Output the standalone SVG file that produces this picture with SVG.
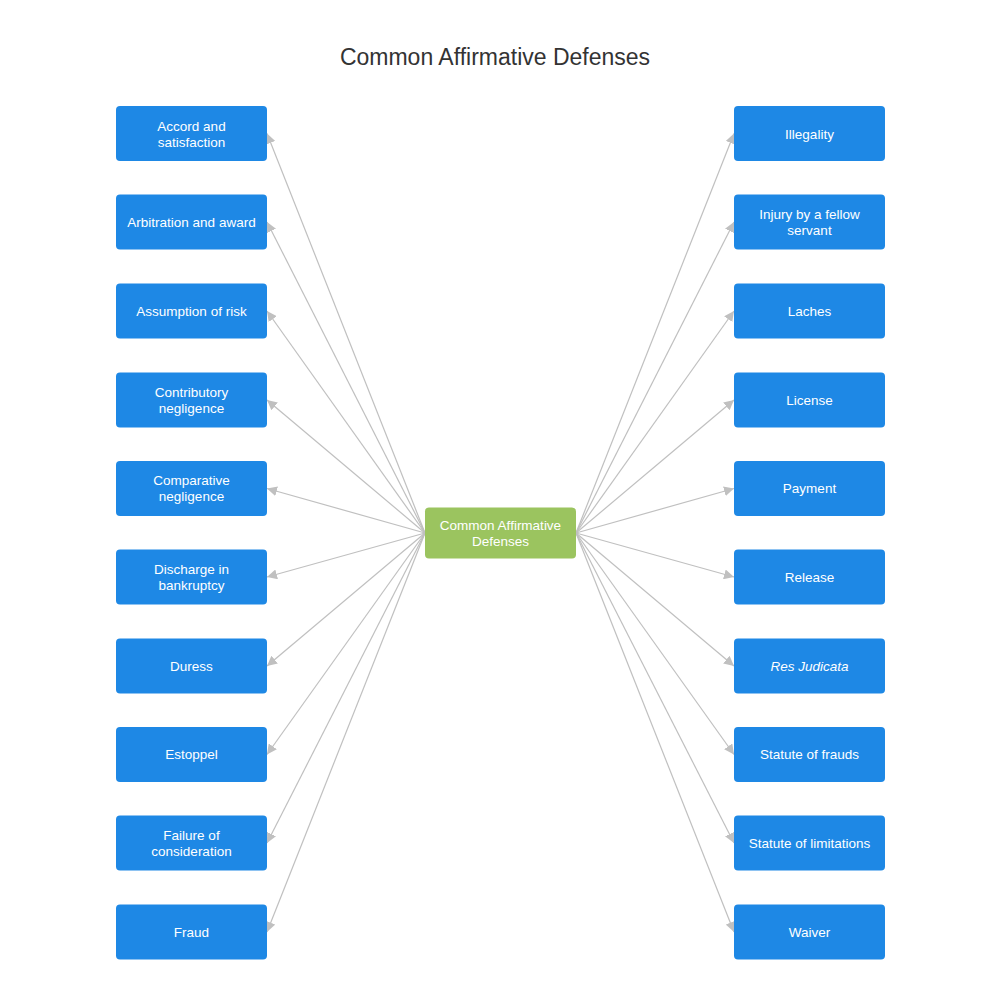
<svg xmlns="http://www.w3.org/2000/svg" width="1000" height="1000" viewBox="0 0 1000 1000">
<style>
.n{fill:#1e88e5}
.t{fill:#fff;font-family:"Liberation Sans",Arial,sans-serif;font-size:13.5px;text-anchor:middle}
.c line{stroke:#c0c0c0;stroke-width:1.2;marker-end:url(#a)}
</style>
<defs><marker id="a" viewBox="0 0 10 10" refX="10" refY="5" markerWidth="10" markerHeight="10" markerUnits="userSpaceOnUse" orient="auto"><path d="M0,0 L10,5 L0,10 z" fill="#c0c0c0"/></marker></defs>
<rect width="1000" height="1000" fill="#fff"/>
<text x="495" y="65" font-family="'Liberation Sans',Arial,sans-serif" font-size="23" fill="#333" text-anchor="middle">Common Affirmative Defenses</text>
<g class="c">
<line x1="425" y1="533" x2="267" y2="133.5"/>
<line x1="425" y1="533" x2="267" y2="222"/>
<line x1="425" y1="533" x2="267" y2="311"/>
<line x1="425" y1="533" x2="267" y2="400"/>
<line x1="425" y1="533" x2="267" y2="488.5"/>
<line x1="425" y1="533" x2="267" y2="577"/>
<line x1="425" y1="533" x2="267" y2="666"/>
<line x1="425" y1="533" x2="267" y2="754.5"/>
<line x1="425" y1="533" x2="267" y2="843"/>
<line x1="425" y1="533" x2="267" y2="932"/>
<line x1="576" y1="533" x2="734" y2="133.5"/>
<line x1="576" y1="533" x2="734" y2="222"/>
<line x1="576" y1="533" x2="734" y2="311"/>
<line x1="576" y1="533" x2="734" y2="400"/>
<line x1="576" y1="533" x2="734" y2="488.5"/>
<line x1="576" y1="533" x2="734" y2="577"/>
<line x1="576" y1="533" x2="734" y2="666"/>
<line x1="576" y1="533" x2="734" y2="754.5"/>
<line x1="576" y1="533" x2="734" y2="843"/>
<line x1="576" y1="533" x2="734" y2="932"/>
</g>
<g id="center"><rect x="425" y="507.5" width="151" height="51" rx="4" fill="#9bc45f"/><text class="t" x="500.5" y="530">Common Affirmative</text><text class="t" x="500.5" y="546">Defenses</text></g>
<g id="l1"><rect class="n" x="116" y="106" width="151" height="55" rx="4"/><text class="t" x="191.5" y="131">Accord and</text><text class="t" x="191.5" y="147">satisfaction</text></g>
<g id="l2"><rect class="n" x="116" y="194.5" width="151" height="55" rx="4"/><text class="t" x="191.5" y="227">Arbitration and award</text></g>
<g id="l3"><rect class="n" x="116" y="283.5" width="151" height="55" rx="4"/><text class="t" x="191.5" y="316">Assumption of risk</text></g>
<g id="l4"><rect class="n" x="116" y="372.5" width="151" height="55" rx="4"/><text class="t" x="191.5" y="397">Contributory</text><text class="t" x="191.5" y="413">negligence</text></g>
<g id="l5"><rect class="n" x="116" y="461" width="151" height="55" rx="4"/><text class="t" x="191.5" y="485">Comparative</text><text class="t" x="191.5" y="501">negligence</text></g>
<g id="l6"><rect class="n" x="116" y="549.5" width="151" height="55" rx="4"/><text class="t" x="191.5" y="574">Discharge in</text><text class="t" x="191.5" y="590">bankruptcy</text></g>
<g id="l7"><rect class="n" x="116" y="638.5" width="151" height="55" rx="4"/><text class="t" x="191.5" y="671">Duress</text></g>
<g id="l8"><rect class="n" x="116" y="727" width="151" height="55" rx="4"/><text class="t" x="191.5" y="759">Estoppel</text></g>
<g id="l9"><rect class="n" x="116" y="815.5" width="151" height="55" rx="4"/><text class="t" x="191.5" y="840">Failure of</text><text class="t" x="191.5" y="856">consideration</text></g>
<g id="l10"><rect class="n" x="116" y="904.5" width="151" height="55" rx="4"/><text class="t" x="191.5" y="937">Fraud</text></g>
<g id="r1"><rect class="n" x="734" y="106" width="151" height="55" rx="4"/><text class="t" x="809.5" y="139">Illegality</text></g>
<g id="r2"><rect class="n" x="734" y="194.5" width="151" height="55" rx="4"/><text class="t" x="809.5" y="219">Injury by a fellow</text><text class="t" x="809.5" y="235">servant</text></g>
<g id="r3"><rect class="n" x="734" y="283.5" width="151" height="55" rx="4"/><text class="t" x="809.5" y="316">Laches</text></g>
<g id="r4"><rect class="n" x="734" y="372.5" width="151" height="55" rx="4"/><text class="t" x="809.5" y="405">License</text></g>
<g id="r5"><rect class="n" x="734" y="461" width="151" height="55" rx="4"/><text class="t" x="809.5" y="493">Payment</text></g>
<g id="r6"><rect class="n" x="734" y="549.5" width="151" height="55" rx="4"/><text class="t" x="809.5" y="582">Release</text></g>
<g id="r7"><rect class="n" x="734" y="638.5" width="151" height="55" rx="4"/><text class="t" x="809.5" y="671" font-style="italic">Res Judicata</text></g>
<g id="r8"><rect class="n" x="734" y="727" width="151" height="55" rx="4"/><text class="t" x="809.5" y="759">Statute of frauds</text></g>
<g id="r9"><rect class="n" x="734" y="815.5" width="151" height="55" rx="4"/><text class="t" x="809.5" y="848">Statute of limitations</text></g>
<g id="r10"><rect class="n" x="734" y="904.5" width="151" height="55" rx="4"/><text class="t" x="809.5" y="937">Waiver</text></g>
</svg>
